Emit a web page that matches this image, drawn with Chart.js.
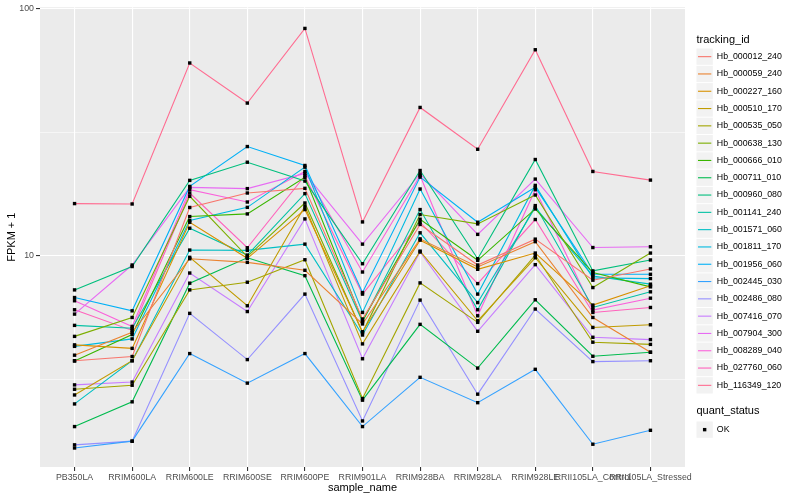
<!DOCTYPE html>
<html>
<head>
<meta charset="utf-8">
<script src="https://cdn.jsdelivr.net/npm/chart.js@4.4.0/dist/chart.umd.min.js"></script>
<style>
html, body { margin: 0; padding: 0; background: #fff; }
</style>
</head>
<body>
<canvas id="myChart" width="800" height="500"></canvas>
<script>
// categorias del eje x
var samples = ['PB350LA', 'RRIM600LA', 'RRIM600LE', 'RRIM600SE', 'RRIM600PE', 'RRIM901LA',
               'RRIM928BA', 'RRIM928LA', 'RRIM928LE', 'RRII105LA_Control', 'RRII105LA_Stressed'];
var yTicks = [10, 100];
var yMinor = [3.1623, 31.623];

// FPKM + 1 por gen
var hb_000012_240 = [3.78, 3.93, 15.7, 17.96, 18.76, 5.57, 13.41, 9.20, 11.70, 7.99, 8.87];
var hb_000059_240 = [3.98, 4.92, 9.75, 9.43, 8.76, 5.32, 11.73, 9.03, 11.43, 5.65, 4.09];
var hb_000227_160 = [4.38, 4.24, 13.69, 9.79, 15.40, 4.95, 11.59, 8.84, 10.28, 6.34, 7.58];
var hb_000510_170 = [2.75, 3.78, 9.88, 6.30, 15.88, 4.42, 10.47, 5.48, 9.84, 5.15, 5.28];
var hb_000535_050 = [2.90, 3.01, 7.30, 7.84, 9.66, 2.66, 7.79, 5.40, 10.09, 4.49, 4.40];
var hb_000638_130 = [4.74, 5.65, 17.42, 9.95, 16.37, 4.91, 14.71, 13.48, 17.63, 7.46, 10.28];
var hb_000666_010 = [3.77, 4.82, 14.43, 14.79, 20.77, 5.48, 14.08, 9.61, 15.49, 8.58, 7.51];
var hb_000711_010 = [2.05, 2.58, 7.77, 9.84, 8.33, 2.62, 5.30, 3.53, 6.66, 3.94, 4.09];
var hb_000960_080 = [7.30, 9.07, 20.20, 23.91, 20.07, 9.31, 22.14, 9.75, 24.52, 8.71, 9.64];
var hb_001141_240 = [5.25, 5.11, 12.95, 10.09, 17.86, 5.43, 15.40, 6.07, 15.98, 6.20, 7.17];
var hb_001571_060 = [2.53, 3.78, 10.57, 10.54, 11.17, 4.80, 12.41, 6.49, 15.72, 8.31, 7.70];
var hb_001811_170 = [4.32, 4.63, 13.91, 15.72, 22.84, 5.92, 18.64, 7.02, 19.28, 8.16, 8.11];
var hb_001956_060 = [6.80, 6.01, 19.10, 27.66, 23.20, 7.12, 20.82, 13.69, 18.93, 8.44, 8.44];
var hb_002445_030 = [1.68, 1.79, 4.04, 3.07, 4.04, 2.05, 3.24, 2.56, 3.49, 1.74, 1.98];
var hb_002486_080 = [1.73, 1.79, 5.87, 3.82, 7.02, 2.16, 6.64, 2.77, 6.11, 3.75, 3.78];
var hb_007416_070 = [3.02, 3.10, 8.54, 5.97, 14.12, 3.85, 10.38, 4.97, 9.23, 4.70, 4.60];
var hb_007904_300 = [5.83, 9.20, 18.93, 18.71, 21.54, 11.17, 21.48, 12.23, 20.44, 10.82, 10.90];
var hb_008289_040 = [6.60, 5.20, 18.53, 16.52, 21.94, 8.62, 21.15, 5.74, 18.53, 6.05, 6.76];
var hb_027760_060 = [6.07, 5.01, 17.96, 10.80, 21.09, 7.02, 13.69, 7.74, 14.04, 5.92, 6.20];
var hb_116349_120 = [16.28, 16.22, 60.13, 41.43, 82.9, 13.73, 39.78, 26.97, 68.0, 21.94, 20.25];

var trackingIds = ['Hb_000012_240', 'Hb_000059_240', 'Hb_000227_160', 'Hb_000510_170', 'Hb_000535_050',
                   'Hb_000638_130', 'Hb_000666_010', 'Hb_000711_010', 'Hb_000960_080', 'Hb_001141_240',
                   'Hb_001571_060', 'Hb_001811_170', 'Hb_001956_060', 'Hb_002445_030', 'Hb_002486_080',
                   'Hb_007416_070', 'Hb_007904_300', 'Hb_008289_040', 'Hb_027760_060', 'Hb_116349_120'];
var seriesValues = [hb_000012_240, hb_000059_240, hb_000227_160, hb_000510_170, hb_000535_050,
                    hb_000638_130, hb_000666_010, hb_000711_010, hb_000960_080, hb_001141_240,
                    hb_001571_060, hb_001811_170, hb_001956_060, hb_002445_030, hb_002486_080,
                    hb_007416_070, hb_007904_300, hb_008289_040, hb_027760_060, hb_116349_120];
var quantStatus = ['OK'];

var colors = ['#F8766D', '#EA8331', '#D89000', '#C09B00', '#A3A500', '#7CAE00', '#39B600', '#00BB4E',
              '#00BF7D', '#00C1A3', '#00BFC4', '#00BAE0', '#00B0F6', '#35A2FF', '#9590FF', '#C77CFF',
              '#E76BF3', '#FA62DB', '#FF62BC', '#FF6C91'];

var FONT = '"Liberation Sans", Arial, sans-serif';
Chart.defaults.font.family = FONT;

var datasets = seriesValues.map(function(vals, i) {
    return {
        label: trackingIds[i],
        data: vals.map(function(v, j) { return { x: j, y: v }; }),
        borderColor: colors[i],
        backgroundColor: colors[i],
        borderWidth: 1.1,
        pointRadius: 0,
        tension: 0,
        fill: false
    };
});

function isMajor(v) {
    return yTicks.some(function(t) { return Math.abs(t - v) < 1e-6; });
}

// fondo gris del panel
var panelBg = {
    id: 'panelBg',
    beforeDraw: function(chart) {
        var a = chart.chartArea, ctx = chart.ctx;
        ctx.save();
        ctx.fillStyle = '#EBEBEB';
        ctx.fillRect(a.left, a.top, a.right - a.left, a.bottom - a.top);
        ctx.restore();
    }
};

// puntos encima de todas las lineas (como geom_point)
var squarePoints = {
    id: 'squarePoints',
    afterDatasetsDraw: function(chart) {
        var ctx = chart.ctx;
        ctx.save();
        ctx.fillStyle = '#000';
        chart.data.datasets.forEach(function(ds, i) {
            chart.getDatasetMeta(i).data.forEach(function(el) {
                ctx.fillRect(el.x - 1.7, el.y - 1.7, 3.4, 3.4);
            });
        });
        ctx.restore();
    }
};

// leyenda estilo ggplot
var ggLegend = {
    id: 'ggLegend',
    afterDraw: function(chart) {
        var ctx = chart.ctx;
        var x0 = 696.5, y0 = 48.5, step = 17.3, key = 16.3;
        ctx.save();
        ctx.textBaseline = 'middle';
        ctx.textAlign = 'left';
        ctx.fillStyle = '#000';
        ctx.font = '11px ' + FONT;
        ctx.fillText('tracking_id', x0, 40);
        ctx.font = '8.8px ' + FONT;
        trackingIds.forEach(function(name, i) {
            var y = y0 + i * step;
            ctx.fillStyle = '#F2F2F2';
            ctx.fillRect(x0, y, key, key);
            ctx.strokeStyle = colors[i];
            ctx.lineWidth = 1.1;
            ctx.beginPath();
            ctx.moveTo(x0 + 1.5, y + key / 2);
            ctx.lineTo(x0 + key - 1.5, y + key / 2);
            ctx.stroke();
            ctx.fillStyle = '#000';
            ctx.fillText(name, x0 + key + 4, y + key / 2);
        });
        ctx.font = '11px ' + FONT;
        ctx.fillText('quant_status', x0, 411);
        ctx.font = '8.8px ' + FONT;
        quantStatus.forEach(function(name, i) {
            var y = 421.5 + i * step;
            ctx.fillStyle = '#F2F2F2';
            ctx.fillRect(x0, y, key, key);
            ctx.fillStyle = '#000';
            ctx.fillRect(x0 + key / 2 - 1.7, y + key / 2 - 1.7, 3.4, 3.4);
            ctx.fillText(name, x0 + key + 4, y + key / 2);
        });
        ctx.restore();
    }
};

var ctx = document.getElementById('myChart').getContext('2d');
var myChart = new Chart(ctx, {
    type: 'line',
    data: { datasets: datasets },
    plugins: [panelBg, squarePoints, ggLegend],
    options: {
        responsive: false,
        animation: false,
        events: [],
        devicePixelRatio: 1,
        layout: { padding: { left: 0, right: 115, top: 5, bottom: 0 } },
        plugins: { legend: { display: false }, tooltip: { enabled: false } },
        scales: {
            x: {
                type: 'linear',
                min: -0.6,
                max: 10.6,
                afterBuildTicks: function(axis) {
                    axis.ticks = samples.map(function(s, i) { return { value: i }; });
                },
                afterFit: function(axis) { axis.height = 33; },
                ticks: {
                    autoSkip: false, maxRotation: 0, minRotation: 0, padding: 1,
                    color: '#4D4D4D', font: { size: 8.8 },
                    callback: function(v) { return samples[v]; }
                },
                grid: { color: '#FFFFFF', lineWidth: 1.1, tickColor: '#333333', tickLength: 4 },
                border: { display: false },
                title: { display: true, text: 'sample_name', color: '#000', font: { size: 11 }, padding: { top: 2, bottom: 5 } }
            },
            y: {
                type: 'logarithmic',
                min: 1.408,
                max: 100.9,
                afterBuildTicks: function(axis) {
                    axis.ticks = yMinor.concat(yTicks).sort(function(a, b) { return a - b; })
                        .map(function(v) { return { value: v }; });
                },
                afterFit: function(axis) { axis.width = 40; },
                ticks: {
                    autoSkip: false, padding: 2, color: '#4D4D4D', font: { size: 8.8 },
                    callback: function(v) { return isMajor(v) ? String(v) : ''; }
                },
                grid: {
                    color: '#FFFFFF',
                    lineWidth: function(c) { return c.tick && isMajor(c.tick.value) ? 1.1 : 0.55; },
                    tickColor: function(c) { return c.tick && isMajor(c.tick.value) ? '#333333' : 'rgba(0,0,0,0)'; },
                    tickLength: 4
                },
                border: { display: false },
                title: { display: true, text: 'FPKM + 1', color: '#000', font: { size: 11 }, padding: { top: 5, bottom: 0 } }
            }
        }
    }
});
</script>
</body>
</html>
